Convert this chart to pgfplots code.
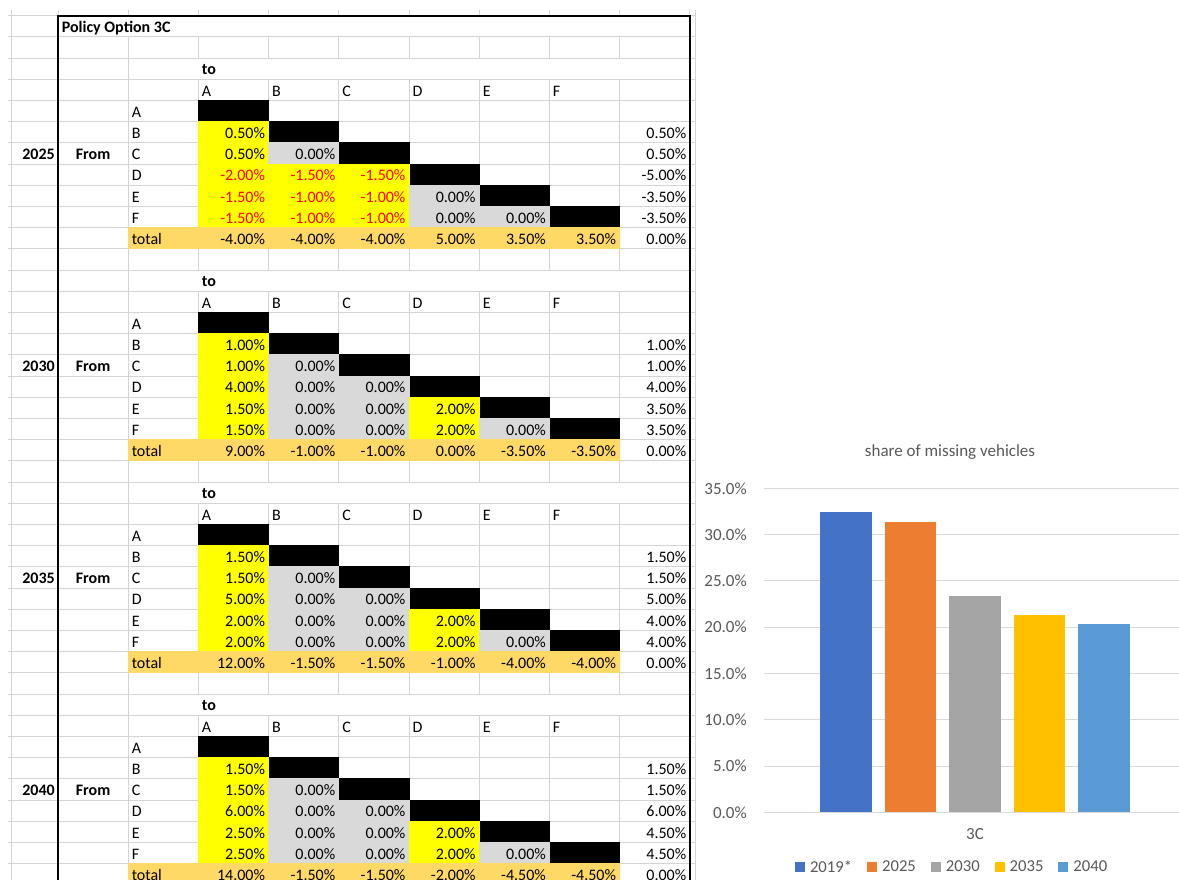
\documentclass[border=0pt]{standalone}
\usepackage{pgfplots}
\pgfplotsset{compat=1.18}
\usepackage{fontspec}
\setmainfont{Carlito}
\definecolor{gridc}{HTML}{D4D4D4}
\definecolor{yel}{HTML}{FFFF00}
\definecolor{gry}{HTML}{D9D9D9}
\definecolor{tot}{HTML}{FFD966}
\definecolor{cBlue}{HTML}{4472C4}
\definecolor{cOrange}{HTML}{ED7D31}
\definecolor{cGray}{HTML}{A5A5A5}
\definecolor{cYellow}{HTML}{FFC000}
\definecolor{cLBlue}{HTML}{5B9BD5}
\definecolor{txt}{HTML}{595959}
\definecolor{cgrid}{HTML}{D9D9D9}
\newcommand\tf{\fontsize{12}{14}\selectfont}
\newcommand\cf{\fontsize{12.75}{15}\selectfont}
\tikzset{declare function={cx(\i)=ifthenelse(\i<1,11.5,58+70.2*(\i-1)); ry(\k)=15.8+21.2*\k;}}
\newcommand\fillcell[3]{\fill[fill=#3] ({cx(#2)-0.5},{ry(#1)-0.5}) rectangle ({cx(#2+1)+0.5},{ry(#1+1)+0.5});}
\newcommand\rtext[4]{\node[anchor=base east,inner sep=0pt,text=#4,font=\tf] at ({cx(#2+1)-3.3},{ry(#1+1)-4.5}) {#3};}
\newcommand\ltext[3]{\node[anchor=base west,inner sep=0pt,font=\tf] at ({cx(#2)+3.3},{ry(#1+1)-4.5}) {#3};}
% #1 base row, #2 year, #3 lower cells, #4 totals, #5 row sums
\newcommand\block[5]{%
  \fill[white] ({cx(3)-1},{ry(#1)+0.6}) rectangle ({cx(10)-1.5},{ry(#1+1)-0.6});
  \node[anchor=base west,inner sep=0pt,font=\tf\bfseries] at ({cx(3)+3.3},{ry(#1+1)-4.5}) {to};
  \foreach \LL [count=\nn from 3] in {A,B,C,D,E,F} {\ltext{#1+1}{\nn}{\LL}}
  \foreach \LL [count=\nn from 2] in {A,B,C,D,E,F} {\ltext{#1+\nn}{2}{\LL}}
  \foreach \nn in {0,...,5} {\fillcell{#1+2+\nn}{3+\nn}{black}}
  \foreach \rr/\cc/\ff/\vv/\tc in {#3} {\fillcell{#1+2+\rr}{3+\cc}{\ff}\rtext{#1+2+\rr}{3+\cc}{\vv\%}{\tc}}
  \fill[tot] ({cx(2)-0.5},{ry(#1+8)-0.5}) rectangle ({cx(9)+0.5},{ry(#1+9)+0.5});
  \ltext{#1+8}{2}{total}
  \foreach \vv [count=\nn from 3] in {#4} {\rtext{#1+8}{\nn}{\vv\%}{black}}
  \rtext{#1+8}{9}{0.00\%}{black}
  \foreach \vv [count=\nn from 3] in {#5} {\rtext{#1+\nn}{9}{\vv\%}{black}}
  \node[anchor=base east,inner sep=0pt,font=\tf\bfseries] at ({cx(1)-3},{ry(#1+5)-4.5}) {#2};
  \node[anchor=base,inner sep=0pt,font=\tf\bfseries] at ({(cx(1)+cx(2))/2},{ry(#1+5)-4.5}) {From};
}
\begin{document}
\begin{tikzpicture}[x=0.75pt,y=0.75pt]
\useasboundingbox (0,0) rectangle (1179,880);
\clip (0,0) rectangle (1179,880);
\fill[white] (0,0) rectangle (1179,880);
\begin{scope}[shift={(0,880)},yscale=-1]
  % grid
  \foreach \k in {0,...,41} {\draw[gridc,line width=0.75pt] (8,{ry(\k)}) -- (695,{ry(\k)});}
  \foreach \i in {0,...,10} {\draw[gridc,line width=0.75pt] ({cx(\i)},10) -- ({cx(\i)},880);}
  \draw[gridc,line width=0.75pt] (695,10) -- (695,880);
  % title row cover
  \fill[white] (60,{ry(0)+0.6}) rectangle ({cx(10)-1.5},{ry(1)-0.6});
  \node[anchor=base west,inner sep=0pt,font=\tf\bfseries] at (61.5,{ry(1)-4.5}) {Policy Option 3C};
  \block{2}{2025}{1/0/yel/0.50/black, 2/0/yel/0.50/black, 2/1/gry/0.00/black,
    3/0/yel/-2.00/red, 3/1/yel/-1.50/red, 3/2/yel/-1.50/red,
    4/0/yel/-1.50/red, 4/1/yel/-1.00/red, 4/2/yel/-1.00/red, 4/3/gry/0.00/black,
    5/0/yel/-1.50/red, 5/1/yel/-1.00/red, 5/2/yel/-1.00/red, 5/3/gry/0.00/black, 5/4/gry/0.00/black}
    {-4.00,-4.00,-4.00,5.00,3.50,3.50}{0.50,0.50,-5.00,-3.50,-3.50}
  \block{12}{2030}{1/0/yel/1.00/black, 2/0/yel/1.00/black, 2/1/gry/0.00/black,
    3/0/yel/4.00/black, 3/1/gry/0.00/black, 3/2/gry/0.00/black,
    4/0/yel/1.50/black, 4/1/gry/0.00/black, 4/2/gry/0.00/black, 4/3/yel/2.00/black,
    5/0/yel/1.50/black, 5/1/gry/0.00/black, 5/2/gry/0.00/black, 5/3/yel/2.00/black, 5/4/gry/0.00/black}
    {9.00,-1.00,-1.00,0.00,-3.50,-3.50}{1.00,1.00,4.00,3.50,3.50}
  \block{22}{2035}{1/0/yel/1.50/black, 2/0/yel/1.50/black, 2/1/gry/0.00/black,
    3/0/yel/5.00/black, 3/1/gry/0.00/black, 3/2/gry/0.00/black,
    4/0/yel/2.00/black, 4/1/gry/0.00/black, 4/2/gry/0.00/black, 4/3/yel/2.00/black,
    5/0/yel/2.00/black, 5/1/gry/0.00/black, 5/2/gry/0.00/black, 5/3/yel/2.00/black, 5/4/gry/0.00/black}
    {12.00,-1.50,-1.50,-1.00,-4.00,-4.00}{1.50,1.50,5.00,4.00,4.00}
  \block{32}{2040}{1/0/yel/1.50/black, 2/0/yel/1.50/black, 2/1/gry/0.00/black,
    3/0/yel/6.00/black, 3/1/gry/0.00/black, 3/2/gry/0.00/black,
    4/0/yel/2.50/black, 4/1/gry/0.00/black, 4/2/gry/0.00/black, 4/3/yel/2.00/black,
    5/0/yel/2.50/black, 5/1/gry/0.00/black, 5/2/gry/0.00/black, 5/3/yel/2.00/black, 5/4/gry/0.00/black}
    {14.00,-1.50,-1.50,-2.00,-4.50,-4.50}{1.50,1.50,6.00,4.50,4.50}
  % thick borders
  \draw[black,line width=1.5pt] (58,880) -- (58,{ry(0)}) -- ({cx(10)},{ry(0)}) -- ({cx(10)},880);
\end{scope}
\begin{axis}[
  at={(573pt,50.775pt)}, anchor=south west,
  width=316.5pt, height=243pt, scale only axis,
  xmin=-1, xmax=1, ymin=0, ymax=35,
  ybar=9.75pt, bar width=38.6pt,
  ytick={0,5,...,35},
  yticklabel={\pgfmathprintnumber[fixed,fixed zerofill,precision=1]{\tick}\%},
  xtick={0}, xticklabels={3C},
  ymajorgrids, grid style={cgrid,line width=0.75pt},
  axis line style={draw=none},
  major tick length=0pt,
  tick label style={font=\cf,text=txt},
  /pgf/number format/assume math mode=true,
  yticklabel style={inner sep=0pt,anchor=east,xshift=-12.75pt},
  xticklabel style={inner sep=0pt,anchor=north,yshift=-12pt},
  title={share of missing vehicles},
  title style={at={(0.4408,1)},anchor=base,yshift=17.5pt,font=\cf,text=txt,inner sep=0pt},
  legend columns=5,
  legend cell align=left,
  legend image code/.code={\fill[#1] (0pt,-3.75pt) rectangle (7.5pt,3.75pt);},
  legend style={at={(0.0735,0)},anchor=west,yshift=-41.25pt,draw=none,fill=none,
    inner sep=0pt,outer sep=0pt,
    nodes={inner sep=0pt,text=txt,font=\fontsize{12.5}{15}\selectfont},
    /tikz/every odd column/.append style={column sep=3.75pt},
    /tikz/every even column/.append style={column sep=11.25pt}},
]
\addplot[fill=cBlue,draw=none] coordinates {(0,32.4)};
\addlegendentry{2019*}
\addplot[fill=cOrange,draw=none] coordinates {(0,31.4)};
\addlegendentry{2025}
\addplot[fill=cGray,draw=none] coordinates {(0,23.4)};
\addlegendentry{2030}
\addplot[fill=cYellow,draw=none] coordinates {(0,21.3)};
\addlegendentry{2035}
\addplot[fill=cLBlue,draw=none] coordinates {(0,20.3)};
\addlegendentry{2040}
\end{axis}
\end{tikzpicture}
\end{document}
